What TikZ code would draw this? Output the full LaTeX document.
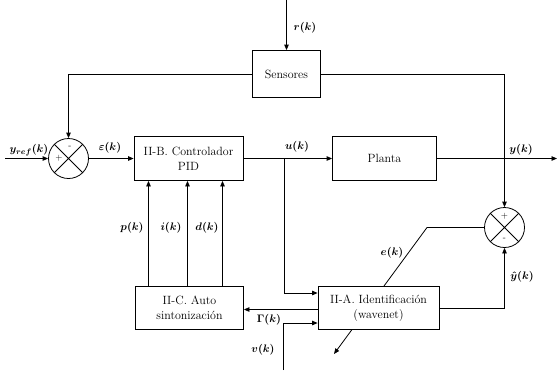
\documentclass[tikz,border=0pt]{standalone}
\usepackage{bm}
\usetikzlibrary{arrows.meta}
\begin{document}
\begin{tikzpicture}[x=1bp,y=-1bp, line width=0.8bp,
  blk/.style={draw, rectangle, align=center, inner sep=0pt, fill=white, font=\fontsize{12}{15}\selectfont},
  sumc/.style={draw, circle, minimum size=40bp, inner sep=0pt, fill=white},
  arr/.style={-{Triangle[length=5.5bp,width=4.5bp]}},
  lbl/.style={inner sep=1bp, font=\fontsize{11}{13}\selectfont},
  sgn/.style={inner sep=0pt, font=\fontsize{9}{10}\selectfont}]
\useasboundingbox (0,0) rectangle (558,370);

% summing junctions
\node[sumc] (s1) at (68.5,158.5) {};
\draw (s1.north east) -- (s1.south west) (s1.north west) -- (s1.south east);
\node[sgn] (s1m) at (70,147) {-};
\node[sgn] (s1p) at (59,158) {+};

\node[sumc] (s2) at (504.5,227.5) {};
\draw (s2.north east) -- (s2.south west) (s2.north west) -- (s2.south east);
\node[sgn] (s2p) at (504.5,216) {+};
\node[sgn] (s2m) at (504.5,239) {-};

% adaptive arrow (drawn before the identification box, which covers it)
\coordinate (ecorner) at (427,227.5);
\coordinate (etip) at (334,354);
\draw[arr] (s2.west) -- (ecorner) -- (etip);

% blocks
\node[blk, minimum width=68bp, minimum height=47bp] (sens) at (286.5,74) {Sensores};
\node[blk, minimum width=109bp, minimum height=44bp] (ctrl) at (188.5,158.5) {II-B. Controlador\\PID};
\node[blk, minimum width=104bp, minimum height=44bp] (plant) at (384.5,158.5) {Planta};
\node[blk, minimum width=121bp, minimum height=43bp] (ident) at (378.5,308) {II-A. Identificación\\(wavenet)};
\node[blk, minimum width=108bp, minimum height=43bp] (auto) at (189.5,308) {II-C. Auto\\sintonización};

% coordinates
\coordinate (rin) at (286.5,0);
\coordinate (yin) at (5,158.5);
\coordinate (yout) at (557,158.5);
\coordinate (ubr) at (284.5,158.5);
\coordinate (vin) at (283.5,370);

% connectors
\draw[arr] (rin) -- (sens.north);
\draw[arr] (sens.west) -| (s1.north);
\draw[arr] (sens.east) -| (s2.north);
\draw[arr] (yin) -- (s1.west);
\draw[arr] (s1.east) -- (ctrl.west);
\draw[arr] (ctrl.east) -- (plant.west);
\draw[arr] (plant.east) -- (yout);
\draw[arr] (ubr) |- ([yshift=15bp]ident.west);
\draw[arr] (vin) |- ([yshift=-15bp]ident.west);
\draw[arr] ([yshift=-1.5bp]ident.west) -- ([yshift=-1.5bp]auto.east);
\draw[arr] ([yshift=-0.5bp]ident.east) -| (s2.south);
\draw[arr] ([xshift=-41bp]auto.north) -- ([xshift=-41bp]auto.north |- ctrl.south);
\draw[arr] ([xshift=-2bp]auto.north) -- ([xshift=-2bp]auto.north |- ctrl.south);
\draw[arr] ([xshift=33bp]auto.north) -- ([xshift=33bp]auto.north |- ctrl.south);

% labels
\node[lbl] (lr) at (305,28) {$\bm{r(k)}$};
\node[lbl] (lyref) at (29,150) {$\bm{y_{ref}(k)}$};
\node[lbl] (leps) at (110,148) {$\bm{\varepsilon(k)}$};
\node[lbl] (lu) at (297,147) {$\bm{u(k)}$};
\node[lbl] (ly) at (521,150) {$\bm{y(k)}$};
\node[lbl] (lp) at (132,228) {$\bm{p(k)}$};
\node[lbl] (li) at (171,228) {$\bm{i(k)}$};
\node[lbl] (ld) at (207,228) {$\bm{d(k)}$};
\node[lbl] (le) at (392,253) {$\bm{e(k)}$};
\node[lbl] (lyhat) at (522,277) {$\bm{\hat{y}(k)}$};
\node[lbl] (lg) at (269,320) {$\bm{\Gamma(k)}$};
\node[lbl] (lv) at (263,350) {$\bm{v(k)}$};
\end{tikzpicture}
\end{document}
